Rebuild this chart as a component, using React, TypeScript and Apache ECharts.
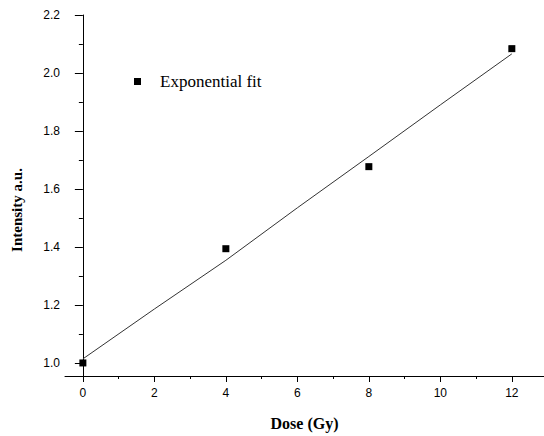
import React, { useEffect, useRef } from "react";
import * as echarts from "echarts";

const doseGy = [0, 4, 8, 12];
const intensity = [1.0, 1.394, 1.677, 2.084];
const fitDose = [0, 2, 4, 6, 8, 10, 12];
const fitIntensity = [1.014, 1.186, 1.354, 1.535, 1.712, 1.89, 2.066];
const xTickLabels = [0, 2, 4, 6, 8, 10, 12];
const xMinorTicks = [1, 3, 5, 7, 9, 11];
const yTickLabels = [1.0, 1.2, 1.4, 1.6, 1.8, 2.0, 2.2];
const yMinorTicks = [1.1, 1.3, 1.5, 1.7, 1.9, 2.1];

export default function App() {
  const ref = useRef<HTMLDivElement>(null);
  useEffect(() => {
    if (!ref.current) return;
    const chart = echarts.init(ref.current, undefined, { renderer: "svg" });
    const axisLine = { show: true, lineStyle: { color: "#000", width: 1 } };
    const labelStyle = { fontFamily: "Liberation Sans, Arial", fontSize: 12, color: "#000" };
    chart.setOption({
      animation: false,
      backgroundColor: "#fff",
      grid: { left: 65, top: 15, bottom: 57, right: 0, containLabel: false },
      legend: {
        left: 134,
        top: 73,
        padding: 0,
        itemWidth: 7,
        itemHeight: 7,
        data: [{ name: "Exponential fit", icon: "rect" }],
        textStyle: {
          fontFamily: "Liberation Serif, Times New Roman, serif",
          fontSize: 17,
          color: "#000",
          padding: [0, 0, 0, 14],
        },
      },
      xAxis: [
        {
          type: "value",
          min: -0.5,
          max: 12.9,
          axisLine,
          splitLine: { show: false },
          axisTick: { show: true, length: 6, customValues: xTickLabels, lineStyle: { color: "#000" } },
          axisLabel: { ...labelStyle, margin: 11, customValues: xTickLabels, formatter: (v: number) => String(v) },
          name: "Dose (Gy)",
          nameLocation: "middle",
          nameGap: 39,
          nameTextStyle: {
            fontFamily: "Liberation Serif, Times New Roman, serif",
            fontWeight: "bold",
            fontSize: 16,
            color: "#000",
          },
        },
        {
          type: "value",
          min: -0.5,
          max: 12.9,
          position: "bottom",
          axisLine: { show: false },
          splitLine: { show: false },
          axisTick: { show: true, length: 3, customValues: xMinorTicks, lineStyle: { color: "#000" } },
          axisLabel: { show: false },
        },
      ],
      yAxis: [
        {
          type: "value",
          min: 0.955,
          max: 2.2,
          axisLine,
          splitLine: { show: false },
          axisTick: { show: true, length: 8, customValues: yTickLabels, lineStyle: { color: "#000" } },
          axisLabel: { ...labelStyle, margin: 5, customValues: yTickLabels, formatter: (v: number) => v.toFixed(1) },
        },
        {
          type: "value",
          min: 0.955,
          max: 2.2,
          position: "left",
          axisLine: { show: false },
          splitLine: { show: false },
          axisTick: { show: true, length: 4, customValues: yMinorTicks, lineStyle: { color: "#000" } },
          axisLabel: { show: false },
        },
      ],
      graphic: [
        {
          type: "text",
          x: 17,
          y: 210,
          rotation: Math.PI / 2,
          style: {
            text: "Intensity a.u.",
            fontFamily: "Liberation Serif, Times New Roman, serif",
            fontWeight: "bold",
            fontSize: 15,
            fill: "#000",
            align: "center",
            verticalAlign: "middle",
          },
        },
      ],
      series: [
        {
          name: "fit",
          type: "line",
          data: fitDose.map((x, i) => [x, fitIntensity[i]]),
          showSymbol: false,
          symbol: "none",
          lineStyle: { color: "#333", width: 1 },
          xAxisIndex: 0,
          yAxisIndex: 0,
          z: 1,
        },
        {
          name: "Exponential fit",
          type: "scatter",
          data: doseGy.map((x, i) => [x, intensity[i]]),
          symbol: "rect",
          symbolSize: 7,
          itemStyle: { color: "#000", opacity: 1 },
          xAxisIndex: 0,
          yAxisIndex: 0,
          z: 3,
        },
      ],
    });
    return () => chart.dispose();
  }, []);
  return <div ref={ref} style={{ width: 544, height: 436, position: "absolute", left: 0, top: 0 }} />;
}
